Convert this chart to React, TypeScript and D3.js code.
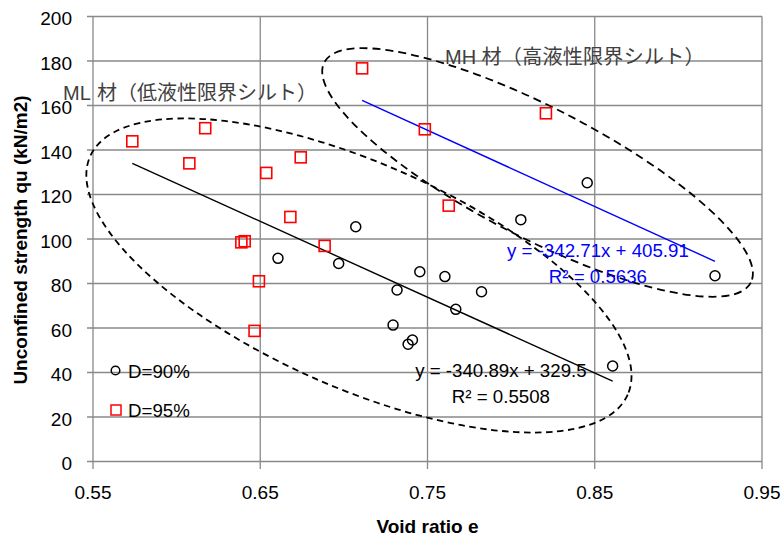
import React from "react";
import * as d3 from "d3";

// ---- data ----
const X_TICKS = [0.55, 0.65, 0.75, 0.85, 0.95];
const Y_TICKS = [0, 20, 40, 60, 80, 100, 120, 140, 160, 180, 200];

// D = 90% (circles)
const E_90 = [0.6606, 0.7071, 0.6969, 0.7318, 0.7294, 0.7454, 0.7604, 0.7823, 0.7669, 0.741, 0.7384, 0.8607, 0.9219, 0.8455, 0.8058];
const QU_90 = [91.3, 105.5, 89.0, 77.1, 61.3, 85.3, 83.1, 76.3, 68.4, 54.6, 52.7, 42.9, 83.5, 125.3, 108.7];
const GROUP_90 = ["ML", "ML", "ML", "ML", "ML", "ML", "ML", "ML", "ML", "ML", "ML", "ML", "MH", "MH", "MH"];

// D = 95% (squares)
const E_95 = [0.5735, 0.6171, 0.6076, 0.6536, 0.6742, 0.668, 0.6387, 0.6407, 0.6885, 0.6492, 0.6466, 0.7109, 0.7484, 0.7627, 0.8208];
const QU_95 = [143.9, 149.8, 134.0, 129.7, 136.7, 109.9, 98.5, 99.0, 96.9, 81.0, 58.7, 176.7, 149.3, 115.0, 156.5];
const GROUP_95 = ["ML", "ML", "ML", "ML", "ML", "ML", "ML", "ML", "ML", "ML", "ML", "MH", "MH", "MH", "MH"];

// trendlines
const TREND_GROUPS = ["ML", "MH"];
const TREND_SLOPES = [-340.89, -342.71];
const TREND_INTERCEPTS = [329.5, 405.91];
const TREND_EQ = ["y = -340.89x + 329.5", "y = -342.71x + 405.91"];
const TREND_R2 = ["R² = 0.5508", "R² = 0.5636"];
const TREND_COLORS = ["#000000", "#0000FF"];

const GROUP_LABELS = ["ML 材（低液性限界シルト）", "MH 材（高液性限界シルト）"];
const LEGEND_LABELS = ["D=90%", "D=95%"];

// ---- layout / style ----
const FONT = "'Liberation Sans', Arial, sans-serif";
const CJK = "'Noto Sans CJK JP', 'Noto Sans', sans-serif";
const GRID = "#898989";

// annotation anchors in data space
const EQ_POS = [
  { e: 0.7939, qu: 38.1 },
  { e: 0.8519, qu: 92.0 },
];
const LABEL_POS = [
  { e: 0.5321, qu: 162.5, gap: 34, len: 220 },
  { e: 0.7605, qu: 178.5, gap: 36.5, len: 223 },
];
// dashed ellipses: centre in data space, radii/rotation in px
const ELLIPSES = [
  { e: 0.709, qu: 83.6, rx: 294, ry: 112, rot: 23.9, dash: "6.5 4.5" },
  { e: 0.8158, qu: 129.9, rx: 240, ry: 65, rot: 27.3, dash: "8 5" },
];

export default function App() {
  const x = d3.scaleLinear().domain([0.55, 0.95]).range([93, 762]);
  const y = d3.scaleLinear().domain([0, 200]).range([461.5, 16.5]);
  const [x0, x1] = x.range();
  const [y0, y1] = y.range();

  const pts90 = E_90.map((e, i) => ({ e, qu: QU_90[i], g: GROUP_90[i] }));
  const pts95 = E_95.map((e, i) => ({ e, qu: QU_95[i], g: GROUP_95[i] }));
  const all = [...pts90, ...pts95];

  const trends = TREND_GROUPS.map((g, i) => {
    const ext = d3.extent(all.filter((p) => p.g === g), (p) => p.e) as [number, number];
    const f = (v: number) => TREND_SLOPES[i] * v + TREND_INTERCEPTS[i];
    const line = d3
      .line<number>()
      .x((v) => x(v))
      .y((v) => y(f(v)));
    return { d: line(ext) || "", color: TREND_COLORS[i] };
  });

  const sq = 11;

  return (
    <svg
      width={782}
      height={539}
      style={{ position: "absolute", left: 0, top: 0, background: "#fff" }}
    >
      <rect x={0} y={0} width={782} height={539} fill="#fff" />
      {/* grid */}
      <g stroke={GRID} strokeWidth={1.3}>
        {Y_TICKS.map((t) => (
          <line key={"h" + t} x1={x0 - 6} x2={x1} y1={y(t)} y2={y(t)} />
        ))}
        {X_TICKS.map((t) => (
          <line key={"v" + t} x1={x(t)} x2={x(t)} y1={y1} y2={y0 + 7.5} />
        ))}
      </g>
      {/* tick labels */}
      <g fontFamily={FONT} fontSize={19} fill="#000">
        {Y_TICKS.map((t) => (
          <text key={"yl" + t} x={72} y={y(t) + 8.5} textAnchor="end">
            {t}
          </text>
        ))}
        {X_TICKS.map((t) => (
          <text key={"xl" + t} x={x(t)} y={499} textAnchor="middle">
            {t.toFixed(2)}
          </text>
        ))}
      </g>
      {/* axis titles */}
      <text
        x={427.5}
        y={533}
        textAnchor="middle"
        fontFamily={FONT}
        fontWeight="bold"
        fontSize={19}
      >
        Void ratio e
      </text>
      <text
        transform={`translate(27,${(y0 + y1) / 2 + 1}) rotate(-90)`}
        textAnchor="middle"
        fontFamily={FONT}
        fontWeight="bold"
        fontSize={19}
      >
        Unconfined strength qu (kN/m2)
      </text>

      {/* ellipses */}
      {ELLIPSES.map((el, i) => (
        <ellipse
          key={"el" + i}
          cx={0}
          cy={0}
          rx={el.rx}
          ry={el.ry}
          transform={`translate(${x(el.e)},${y(el.qu)}) rotate(${el.rot})`}
          fill="none"
          stroke="#000"
          strokeWidth={1.8}
          strokeDasharray={el.dash}
        />
      ))}

      {/* trendlines */}
      {trends.map((t, i) => (
        <path key={"t" + i} d={t.d} stroke={t.color} strokeWidth={1.4} fill="none" />
      ))}

      {/* points */}
      {pts90.map((p, i) => (
        <circle
          key={"c" + i}
          cx={x(p.e)}
          cy={y(p.qu)}
          r={5}
          fill="none"
          stroke="#000"
          strokeWidth={1.5}
        />
      ))}
      {pts95.map((p, i) => (
        <rect
          key={"s" + i}
          x={x(p.e) - sq / 2}
          y={y(p.qu) - sq / 2}
          width={sq}
          height={sq}
          fill="none"
          stroke="#FF0000"
          strokeWidth={1.6}
        />
      ))}

      {/* group labels */}
      {GROUP_LABELS.map((l, i) => {
        const sp = l.indexOf(" ");
        const latin = l.slice(0, sp);
        const cjk = l.slice(sp + 1);
        const lx = x(LABEL_POS[i].e);
        const ly = y(LABEL_POS[i].qu);
        return (
          <g key={"gl" + i} fill="#404040" fontSize={20}>
            <text x={lx} y={ly} fontFamily={FONT}>
              {latin}
            </text>
            <text
              x={lx + LABEL_POS[i].gap}
              y={ly}
              fontFamily={CJK}
              textLength={LABEL_POS[i].len}
              lengthAdjust="spacing"
            >
              {cjk}
            </text>
          </g>
        );
      })}

      {/* equations */}
      {TREND_EQ.map((eq, i) => (
        <g
          key={"eq" + i}
          fontFamily={FONT}
          fontSize={18.7}
          fill={TREND_COLORS[i]}
          textAnchor="middle"
        >
          <text x={x(EQ_POS[i].e)} y={y(EQ_POS[i].qu)}>
            {eq}
          </text>
          <text x={x(EQ_POS[i].e)} y={y(EQ_POS[i].qu) + 26.2}>
            {TREND_R2[i]}
          </text>
        </g>
      ))}

      {/* legend */}
      <circle cx={115.5} cy={370.5} r={4.3} fill="none" stroke="#000" strokeWidth={1.5} />
      <rect x={111} y={405} width={10} height={10} fill="none" stroke="#FF0000" strokeWidth={1.5} />
      <g fontFamily={FONT} fontSize={18.7}>
        <text x={128} y={377.5}>
          {LEGEND_LABELS[0]}
        </text>
        <text x={128} y={416.8}>
          {LEGEND_LABELS[1]}
        </text>
      </g>
    </svg>
  );
}
